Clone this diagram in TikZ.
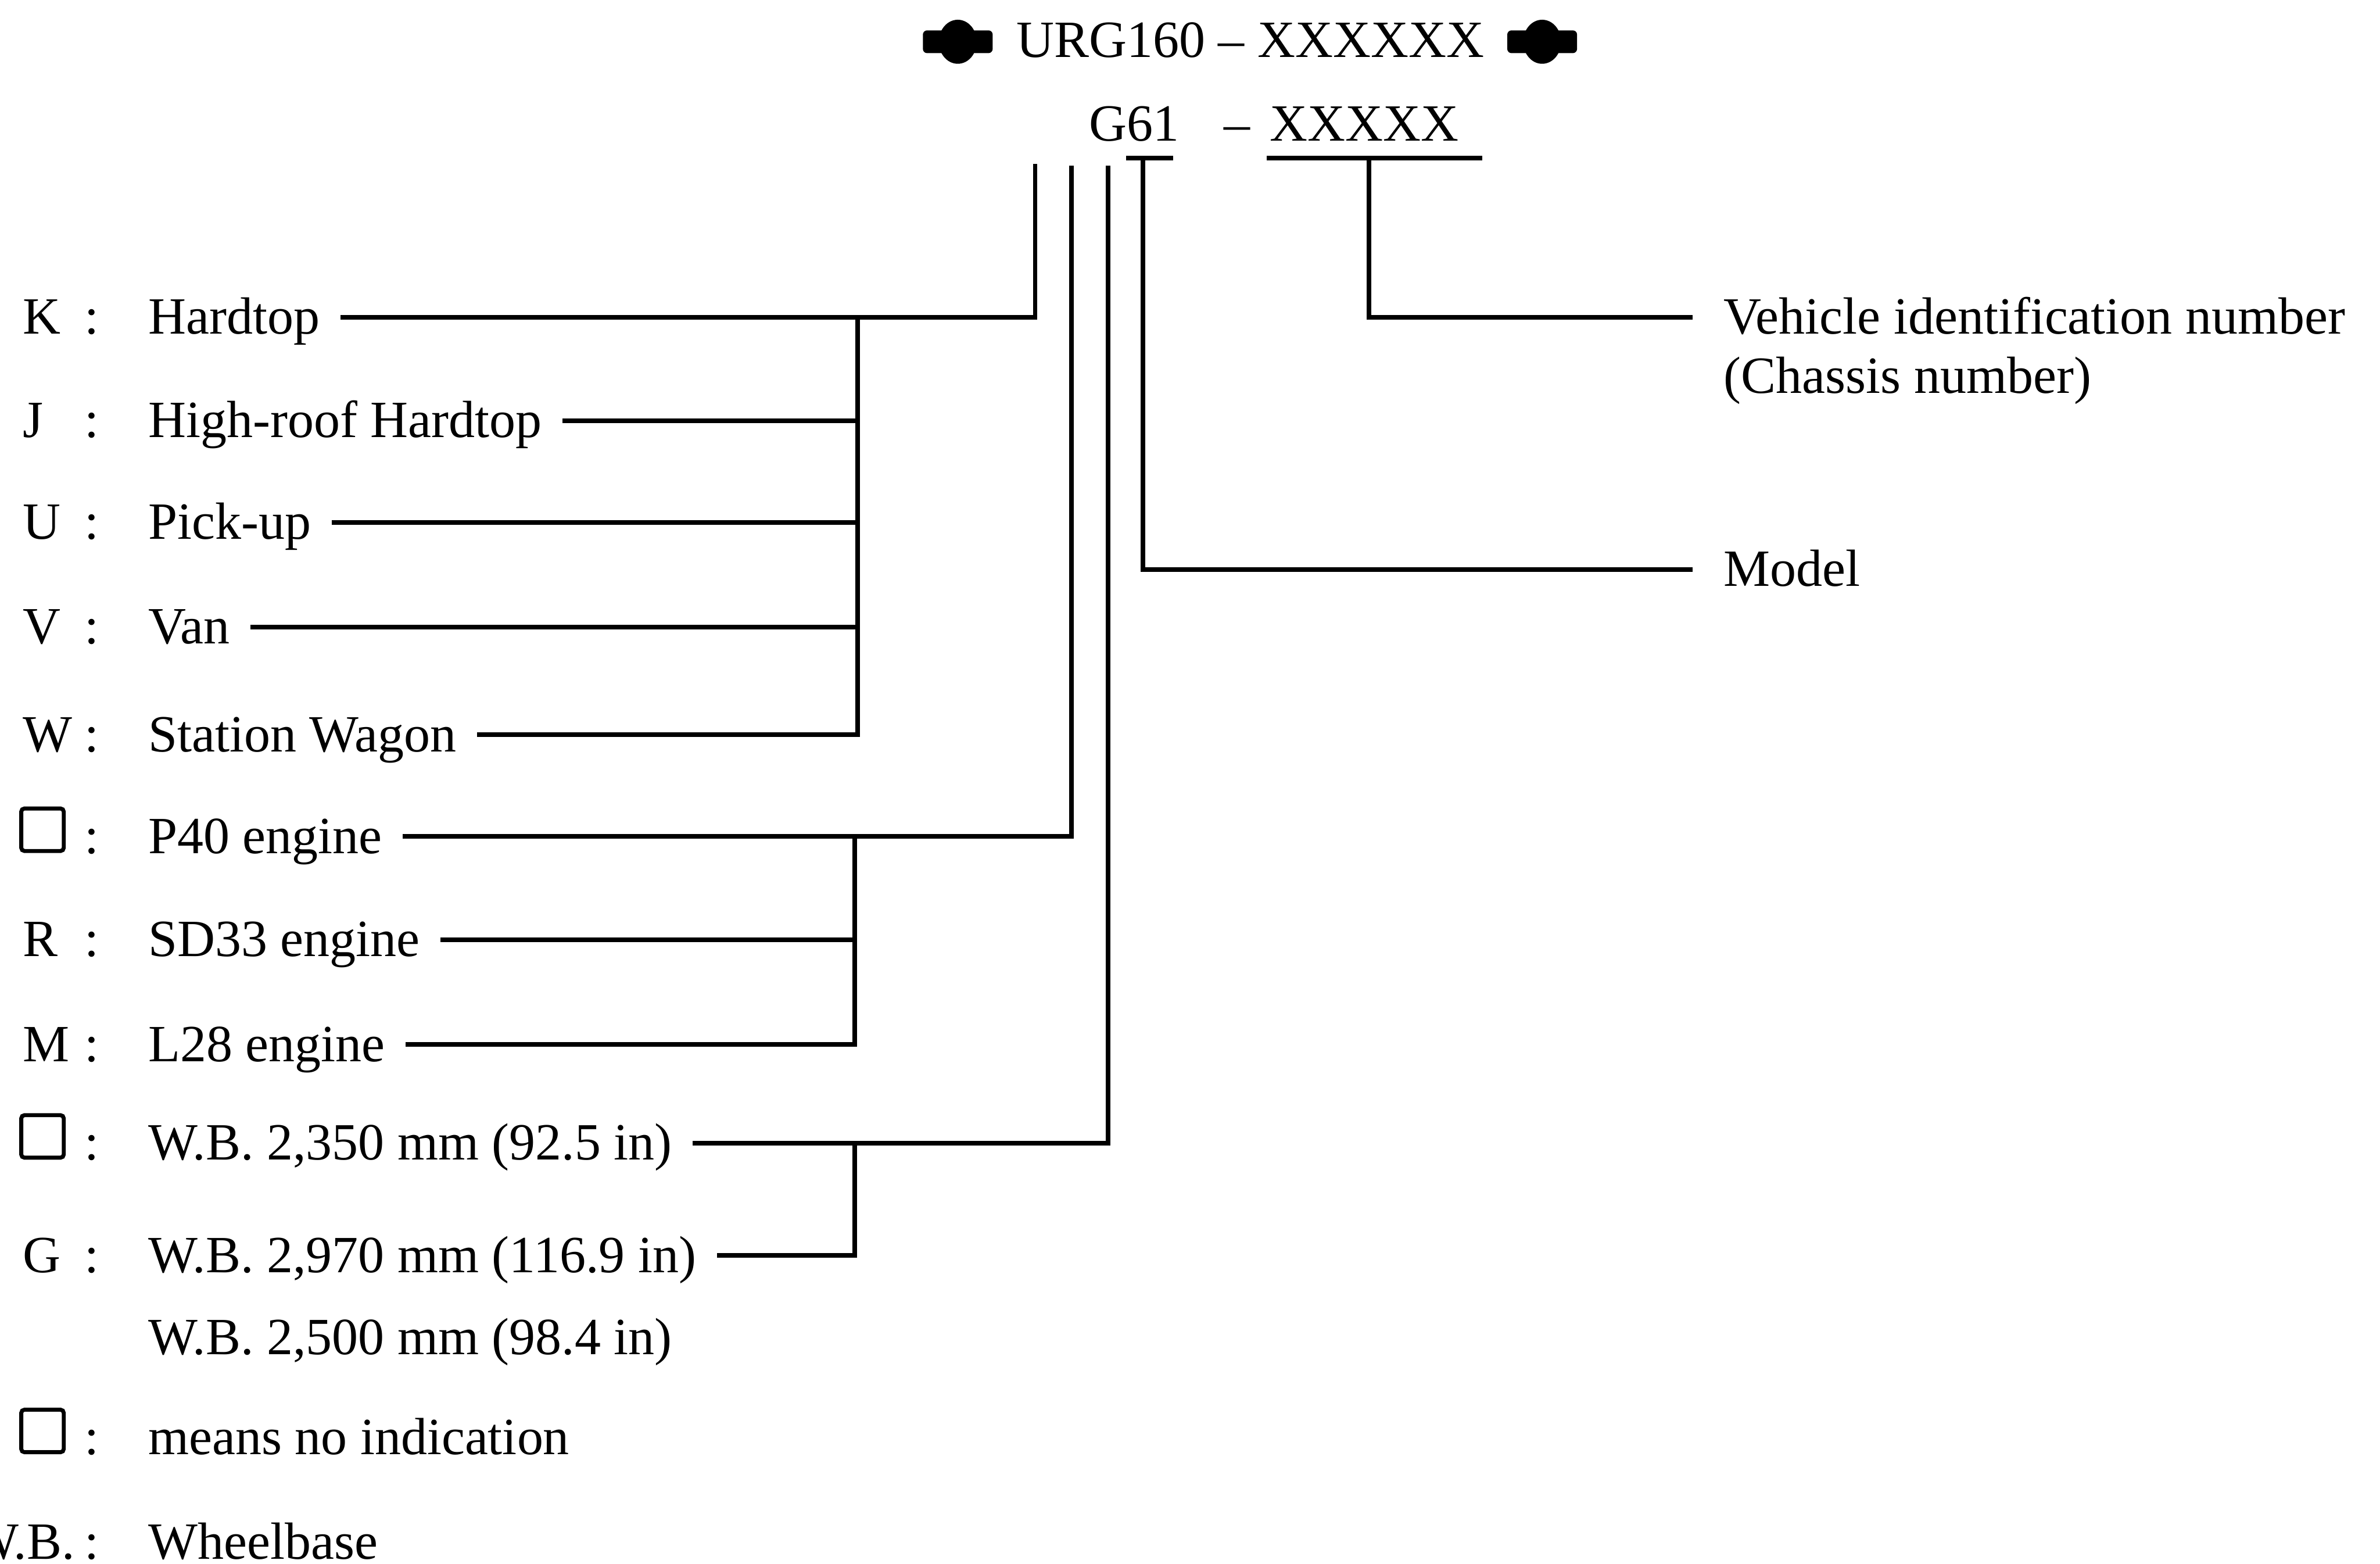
\documentclass[tikz,border=0pt]{standalone}
\usepackage{fontspec}
\setmainfont{Liberation Serif}

\tikzset{
  wire/.style={line width=0.85pt},
  code/.style={anchor=base west, inner sep=0pt},
  key/.style={anchor=base west, inner sep=0pt},
  sep/.style={anchor=base, inner sep=0pt},
  blank/.style={draw, line width=0.75pt, rounded corners=0.6pt, minimum size=0.28cm, inner sep=0pt},
  entry/.style={anchor=base west, inner xsep=0.13cm, inner ysep=0pt, text height=0.25cm, text depth=0.03cm},
  note/.style={anchor=base west, inner xsep=0.2cm, inner ysep=0pt, text height=0.25cm, text depth=0.03cm},
}

\begin{document}
\begin{tikzpicture}[every node/.style={font=\fontsize{9.8}{11.3}\selectfont}]
    % 1 cm = 100 px of the 1568 x 1030 sheet; y runs downwards
    \useasboundingbox (0,0) rectangle (15.68,-10.30);

    % Frame number between its two end marks
    \node[code] (frame) at (6.69,-0.376) {URG160 – XXXXXX};
    \foreach \ox in {6.31,10.16} {
        \fill[rounded corners=0.8pt] (\ox-0.23,-0.35) rectangle (\ox+0.23,-0.20);
        \fill (\ox,-0.275) ellipse (0.125 and 0.145);
    }

    % Model code and serial
    \node[code] (g61) at (7.17,-0.93) {G61};
    \node[sep] (dash) at (8.15,-0.93) {–};
    \node[code] (serial) at (8.36,-0.93) {XXXXX};

    % Underlines and the points where the leader lines start
    \coordinate (ulA) at (7.42,-1.04);
    \coordinate (ulB) at (7.73,-1.04);
    \coordinate (ulC) at (8.345,-1.04);
    \coordinate (ulD) at (9.765,-1.04);
    \draw[wire] (ulA) -- (ulB);
    \draw[wire] (ulC) -- (ulD);

    \coordinate (tapBody) at (6.82,-1.08);
    \coordinate (tapEngine) at (7.06,-1.09);
    \coordinate (tapBase) at (7.30,-1.09);
    \coordinate (tapModel) at (7.53,-1.04);
    \coordinate (tapSerial) at (9.02,-1.04);
    \coordinate (busBody) at (5.65,0);
    \coordinate (busEngine) at (5.63,0);
    \coordinate (busBase) at (5.63,0);

    % Right-hand notes
    \node[note] (vin) at (11.15,-2.20) {Vehicle identification number};
    \node[note] (chassis) at (11.15,-2.59) {(Chassis number)};
    \node[note] (modelnote) at (11.15,-3.86) {Model};

    % Key letters, empty boxes and colons
    \foreach \k/\y in {K/2.20, J/2.88, U/3.55, V/4.24, W/4.95, R/6.30, M/6.99, G/8.38}
        \node[key] (key\k) at (0.145,-\y) {\k};
    \foreach \y [count=\i] in {5.62,7.64,9.58}
        \node[blank] (blank\i) at (0.28,-\y+0.155) {};
    \node[anchor=base east, inner sep=0pt] (keyWB) at (0.50,-10.27) {W.B.};
    \foreach \y [count=\i] in {2.20,2.88,3.55,4.24,4.95,5.62,6.30,6.99,7.64,8.38,9.58,10.27}
        \node[sep] (colon\i) at (0.605,-\y) {:};

    % Body types
    \node[entry] (hardtop) at (0.84,-2.20) {Hardtop};
    \node[entry] (highroof) at (0.84,-2.88) {High-roof Hardtop};
    \node[entry] (pickup) at (0.84,-3.55) {Pick-up};
    \node[entry] (van) at (0.84,-4.24) {Van};
    \node[entry] (wagon) at (0.84,-4.95) {Station Wagon};

    % Engines
    \node[entry] (p40) at (0.84,-5.62) {P40 engine};
    \node[entry] (sd33) at (0.84,-6.30) {SD33 engine};
    \node[entry] (l28) at (0.84,-6.99) {L28 engine};

    % Wheelbases and footnotes
    \node[entry] (wbshort) at (0.84,-7.64) {W.B. 2,350 mm (92.5 in)};
    \node[entry] (wblong) at (0.84,-8.38) {W.B. 2,970 mm (116.9 in)};
    \node[entry] (wbmid) at (0.84,-8.92) {W.B. 2,500 mm (98.4 in)};
    \node[entry] (noind) at (0.84,-9.58) {means no indication};
    \node[entry] (wheelbase) at (0.84,-10.27) {Wheelbase};

    % Leaders: body type
    \draw[wire] (hardtop.east) -- (hardtop.east -| tapBody) -- (tapBody);
    \draw[wire] (hardtop.east -| busBody) -- (wagon.east -| busBody) -- (wagon.east);
    \foreach \n in {highroof,pickup,van}
        \draw[wire] (\n.east) -- (\n.east -| busBody);

    % Leaders: engine
    \draw[wire] (p40.east) -- (p40.east -| tapEngine) -- (tapEngine);
    \draw[wire] (p40.east -| busEngine) -- (l28.east -| busEngine) -- (l28.east);
    \draw[wire] (sd33.east) -- (sd33.east -| busEngine);

    % Leaders: wheelbase
    \draw[wire] (wbshort.east) -- (wbshort.east -| tapBase) -- (tapBase);
    \draw[wire] (wbshort.east -| busBase) -- (wblong.east -| busBase) -- (wblong.east);

    % Leaders: model and serial
    \draw[wire] (tapModel) -- (tapModel |- modelnote.west) -- (modelnote.west);
    \draw[wire] (tapSerial) -- (tapSerial |- vin.west) -- (vin.west);
\end{tikzpicture}
\end{document}
